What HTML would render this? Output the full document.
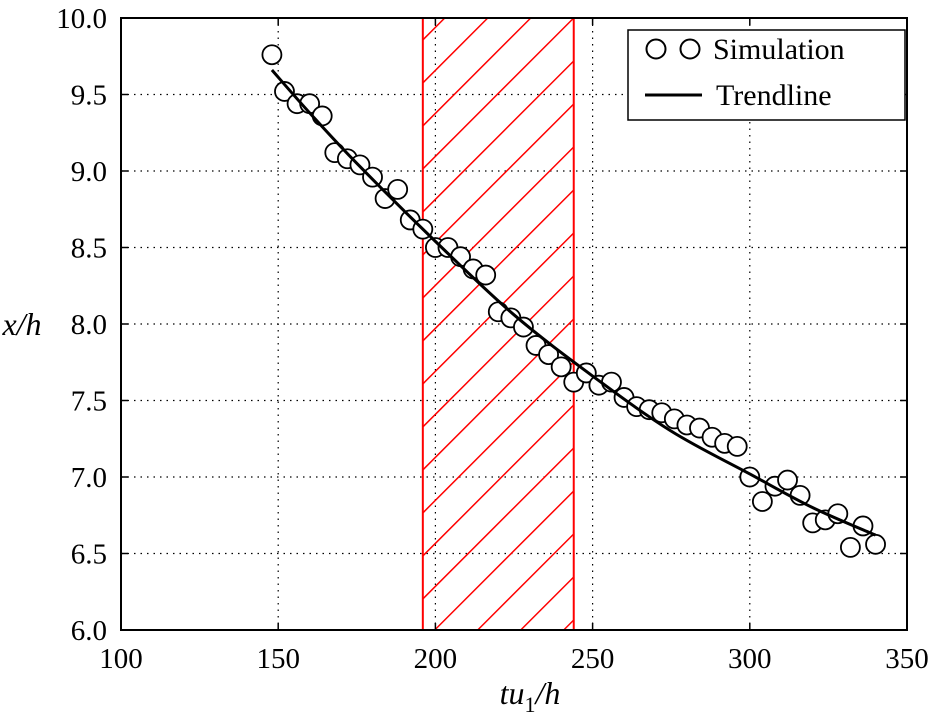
<!DOCTYPE html>
<html><head><meta charset="utf-8"><style>
html,body{margin:0;padding:0;background:#fff;overflow:hidden;width:934px;height:726px}
svg{display:block;font-family:"Liberation Serif",serif}
</style></head><body>
<svg id="chart" width="934" height="726" viewBox="0 0 934 726">
<rect x="0" y="0" width="934" height="726" fill="#fff"/>
<g id="grid"></g>
<g id="hatch"></g>
<g id="points"></g>
<g id="trend"></g>
<rect x="121" y="18" width="786" height="612" fill="none" stroke="#000" stroke-width="2"/>
<g id="ticks"></g>
<text x="530" y="704" font-size="32" text-anchor="middle" font-style="italic">tu<tspan font-style="normal" font-size="22" dy="8">1</tspan><tspan dy="-8">/h</tspan></text>
<text x="22" y="335" font-size="32" text-anchor="middle" font-style="italic">x/h</text>
<g>
<rect x="628" y="30" width="277" height="90" fill="#fff" stroke="#000" stroke-width="1.5"/>
<circle cx="656" cy="49" r="9.5" fill="#fff" stroke="#000" stroke-width="2"/>
<circle cx="690" cy="49" r="9.5" fill="#fff" stroke="#000" stroke-width="2"/>
<text x="713" y="59" font-size="30">Simulation</text>
<line x1="645" y1="95" x2="702" y2="95" stroke="#000" stroke-width="3"/>
<text x="716" y="105" font-size="30">Trendline</text>
</g>
</svg>
<script>
const simX = [148,152,156,160,164,168,172,176,180,184,188,192,196,200,204,208,212,216,220,224,228,232,236,240,244,248,252,256,260,264,268,272,276,280,284,288,292,296,300,304,308,312,316,320,324,328,332,336,340];
const simY = [9.76,9.52,9.44,9.44,9.36,9.12,9.08,9.04,8.96,8.82,8.88,8.68,8.62,8.50,8.50,8.44,8.36,8.32,8.08,8.04,7.98,7.86,7.80,7.72,7.62,7.68,7.60,7.62,7.52,7.46,7.44,7.42,7.38,7.34,7.32,7.26,7.22,7.20,7.00,6.84,6.94,6.98,6.88,6.70,6.72,6.76,6.54,6.68,6.56];
const trendX = [148,160,175,200,225,250,275,300,320,340];
const trendY = [9.66,9.38,9.05,8.54,8.06,7.66,7.30,7.02,6.80,6.62];
const xTicks = [100,150,200,250,300,350];
const yTicks = [6.0,6.5,7.0,7.5,8.0,8.5,9.0,9.5,10.0];
const band = [196,244];

const NS="http://www.w3.org/2000/svg";
const X0=121,X1=907,Y0=630,Y1=18;
const sx=v=>X0+(v-100)/(350-100)*(X1-X0);
const sy=v=>Y0-(v-6)/(10-6)*(Y0-Y1);
function mk(t,a,p){const e=document.createElementNS(NS,t);for(const k in a)e.setAttribute(k,a[k]);p.appendChild(e);return e;}

const grid=document.getElementById('grid'), ticks=document.getElementById('ticks');
xTicks.forEach(v=>{
  const x=sx(v);
  if(v>100&&v<350){const l=mk('line',{x1:x,y1:Y1,x2:x,y2:Y0,stroke:'#000','stroke-width':1.2,'stroke-dasharray':'1.5,5'},grid);
  
  }
  const t=mk('line',{x1:x,y1:Y0,x2:x,y2:Y0-7,stroke:'#000','stroke-width':1.5},ticks);
  
  
  const tt=mk('line',{x1:x,y1:Y1,x2:x,y2:Y1+7,stroke:'#000','stroke-width':1.5},ticks);
  
  
  const lb=mk('text',{x:x,y:Y0+38,'font-size':29,'text-anchor':'middle'},ticks);
  lb.textContent=v;
  
  
});
yTicks.forEach(v=>{
  const y=sy(v);
  if(v>6&&v<10){const l=mk('line',{x1:X0,y1:y,x2:X1,y2:y,stroke:'#000','stroke-width':1.2,'stroke-dasharray':'1.5,5'},grid);
  
  }
  const t=mk('line',{x1:X0,y1:y,x2:X0+7,y2:y,stroke:'#000','stroke-width':1.5},ticks);
  
  
  const tr=mk('line',{x1:X1,y1:y,x2:X1-7,y2:y,stroke:'#000','stroke-width':1.5},ticks);
  
  
  const lb=mk('text',{x:X0-14,y:y+10,'font-size':29,'text-anchor':'end'},ticks);
  lb.textContent=v.toFixed(1);
  
  
});

const hatch=document.getElementById('hatch');
const bx0=sx(band[0]),bx1=sx(band[1]);
for(let c=Y1+ (bx1-bx0)%43; c<Y0+(bx1-bx0)+43; c+=43){
  const xs=Math.max(bx0,bx0+(c-Y0));
  const xe=Math.min(bx1,bx0+(c-Y1));
  if(xs>=xe) continue;
  const l=mk('line',{x1:xs,y1:c-(xs-bx0),x2:xe,y2:c-(xe-bx0),stroke:'#f00','stroke-width':1.5},hatch);
  
  
}
[bx0,bx1].forEach(x=>{const l=mk('line',{x1:x,y1:Y1,x2:x,y2:Y0,stroke:'#f00','stroke-width':2},hatch);
  
  });

const pts=document.getElementById('points');
simX.forEach((v,i)=>{
  const c=mk('circle',{cx:sx(v),cy:sy(simY[i]),r:9.5,fill:'#fff',stroke:'#000','stroke-width':1.8},pts);
  
  
});

const P=trendX.map((v,i)=>[sx(v),sy(trendY[i])]);
let d=`M${P[0][0]},${P[0][1]}`;
for(let i=0;i<P.length-1;i++){
  const p0=P[Math.max(0,i-1)],p1=P[i],p2=P[i+1],p3=P[Math.min(P.length-1,i+2)];
  d+=` C${p1[0]+(p2[0]-p0[0])/6},${p1[1]+(p2[1]-p0[1])/6} ${p2[0]-(p3[0]-p1[0])/6},${p2[1]-(p3[1]-p1[1])/6} ${p2[0]},${p2[1]}`;
}
const tl=mk('path',{d:d,fill:'none',stroke:'#000','stroke-width':3},document.getElementById('trend'));


</script>
</body></html>
